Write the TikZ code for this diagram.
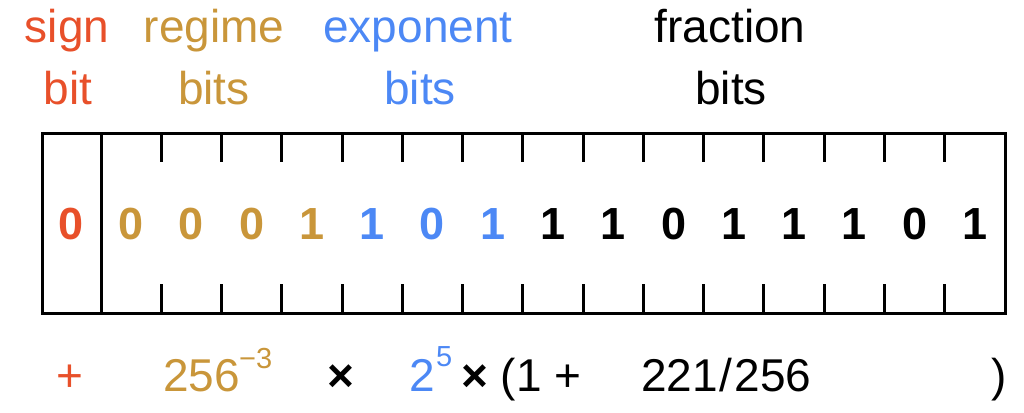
\documentclass[tikz,border=0pt]{standalone}
\usepackage{fontspec}
\setmainfont{Liberation Sans}
\definecolor{signc}{HTML}{E8502A}
\definecolor{regc}{HTML}{C9963A}
\definecolor{expc}{HTML}{4C88F5}
\begin{document}
\begin{tikzpicture}[x=1pt,y=-1pt,
  lab/.style={font=\fontsize{46}{50}\selectfont, inner sep=0, anchor=base},
  bitd/.style={font=\fontsize{45}{50}\selectfont\bfseries, inner sep=0, anchor=base},
  frm/.style={font=\fontsize{46}{50}\selectfont, inner sep=0, anchor=base west},
  supx/.style={font=\fontsize{29}{31}\selectfont, inner sep=0, anchor=base west},
  frame/.style={line width=3pt},
  tickline/.style={line width=3pt}]
\useasboundingbox (0,0) rectangle (1024,412);
% header labels
\node[lab,text=signc] (hsign1) at (67,43) {sign};
\node[lab,text=signc] (hsign2) at (68,104) {bit};
\node[lab,text=regc] (hreg1) at (214,43) {regime};
\node[lab,text=regc] (hreg2) at (214,104) {bits};
\node[lab,text=expc] (hexp1) at (418,43) {exponent};
\node[lab,text=expc] (hexp2) at (420,104) {bits};
\node[lab,text=black] (hfr1) at (730,43) {fraction};
\node[lab,text=black] (hfr2) at (731,104) {bits};
% frame
\draw[frame] (42,133) rectangle (1005,313);
\draw[frame] (101,133) -- (101,313);
\foreach \k in {1,...,14} {
  \pgfmathsetmacro\xx{101+60.27*\k}
  \draw[tickline] (\xx,133) -- (\xx,162);
  \draw[tickline] (\xx,284) -- (\xx,313);
}
% bits
\node[bitd,text=signc] (bs) at (71.5,239) {0};
\foreach \d/\c [count=\i from 0] in {0/regc,0/regc,0/regc,1/regc,1/expc,0/expc,1/expc,1/black,1/black,0/black,1/black,1/black,1/black,0/black,1/black}
  \node[bitd,text=\c] (b\i) at ({101+60.27*(\i+0.5)},239) {\d};
% formula
\node[lab,text=signc] (fplus) at (70,391) {+};
\node[frm,text=regc] (fbase) at (163,391) {256};
\node[supx,text=regc] (fexp) at (239,368) {\char"2212 3};
\node[lab,text=black] (ftimes) at (341,391) {\bfseries ×};
\node[frm,text=expc] (ftwo) at (409,391) {2};
\node[supx,text=expc] (ffive) at (436,366) {5};
\node[frm,text=black] (fopen) at (461,391) {\bfseries ×\mdseries{} (1 +};
\node[frm,text=black] (ffrac) at (641,391) {221\kern2pt/\kern2pt256};
\node[frm,text=black] (fclose) at (991,391) {)};
\end{tikzpicture}
\end{document}
